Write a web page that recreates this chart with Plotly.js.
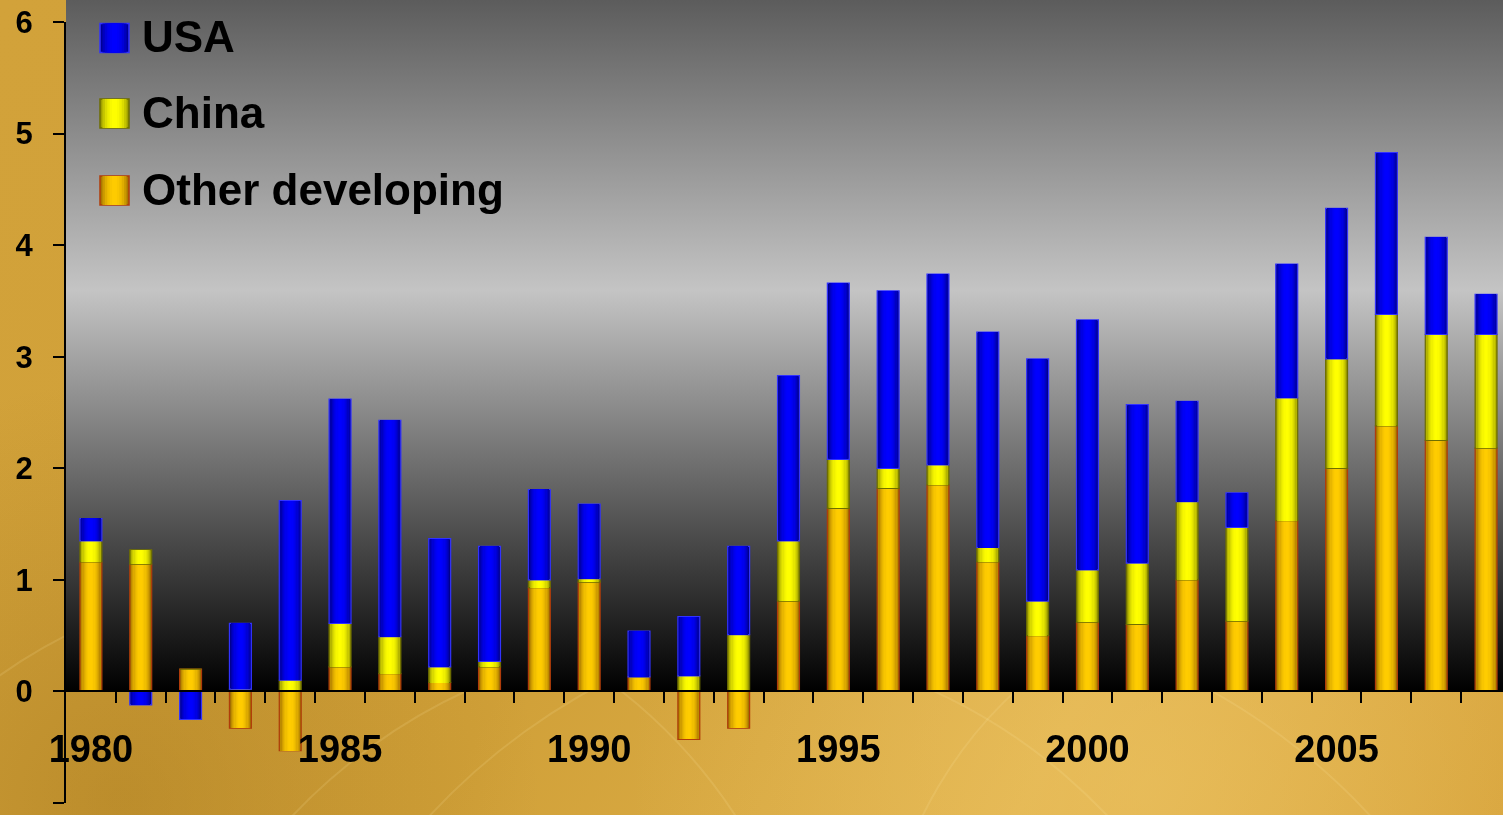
<!DOCTYPE html>
<html>
<head>
<meta charset="utf-8">
<script src="https://cdn.plot.ly/plotly-3.0.1.min.js"></script>
<style>
  html, body { margin: 0; padding: 0; width: 1503px; height: 815px; overflow: hidden; }
  #bg { position: absolute; left: 0; top: 0; }
  #chart { position: absolute; left: 0; top: 0; width: 1503px; height: 815px; }
</style>
</head>
<body>
<canvas id="bg" width="1503" height="815"></canvas>
<div id="chart"></div>
<script>
// ---------------- data ----------------
const years = [1980,1981,1982,1983,1984,1985,1986,1987,1988,1989,1990,1991,1992,1993,1994,
               1995,1996,1997,1998,1999,2000,2001,2002,2003,2004,2005,2006,2007,2008];
const usa   = [0.20,-0.12,-0.25,0.59,1.61,2.01,1.94,1.15,1.03,0.81,0.67,0.41,0.53,0.79,1.48,
               1.58,1.59,1.71,1.93,2.17,2.24,1.42,0.90,0.31,1.20,1.35,1.45,0.87,0.36];
const china = [0.19,0.13,0.00,0.02,0.10,0.39,0.33,0.14,0.05,0.07,0.03,0.00,0.14,0.51,0.54,
               0.44,0.18,0.18,0.13,0.31,0.47,0.55,0.70,0.84,1.10,0.98,1.00,0.95,1.02];
const other = [1.16,1.14,0.20,-0.33,-0.53,0.22,0.16,0.08,0.22,0.93,0.98,0.13,-0.43,-0.33,0.81,
               1.64,1.82,1.85,1.16,0.50,0.62,0.60,1.00,0.63,1.53,2.00,2.38,2.25,2.18];
const seriesNames = ['USA', 'China', 'Other developing'];
const yTicks = [-1,0,1,2,3,4,5,6];
const yearLabels = [1980,1985,1990,1995,2000,2005];

// ---------------- style ----------------
const W = 1503, H = 815;
const M = {l: 66, r: 0, t: 22, b: 12};
const plotW = W - M.l - M.r, plotH = H - M.t - M.b;
const yMin = -1, yMax = 6;
const xMin = 1979.5, xMax = 2008.34;   // chart is cropped at the right edge
const zeroFrac = (0 - yMin) / (yMax - yMin);
const zeroPx = M.t + plotH * (yMax - 0) / (yMax - yMin);
const FONT = 'Liberation Sans, Arial, Helvetica, sans-serif';

const styles = {
  'Other developing': {edge: [135, 85, 0], center: [255, 204, 0], line: 'rgb(176,60,10)'},
  'China':            {edge: [120, 120, 0], center: [255, 255, 0], line: 'rgb(110,110,0)'},
  'USA':              {edge: [0, 0, 105], center: [0, 0, 255], line: 'rgb(50,50,255)'}
};

// ---------------- background canvas ----------------
(function drawBg() {
  const c = document.getElementById('bg').getContext('2d');
  const g0 = c.createLinearGradient(0, 0, W, H);
  g0.addColorStop(0, '#d2a23a');
  g0.addColorStop(0.45, '#d0a038');
  g0.addColorStop(0.75, '#e0b24c');
  g0.addColorStop(1, '#d6a23a');
  c.fillStyle = g0; c.fillRect(0, 0, W, H);
  let rg = c.createRadialGradient(1150, 790, 10, 1150, 790, 520);
  rg.addColorStop(0, 'rgba(240,200,105,0.5)');
  rg.addColorStop(1, 'rgba(240,200,105,0)');
  c.fillStyle = rg; c.fillRect(0, 0, W, H);
  rg = c.createRadialGradient(120, 800, 10, 120, 800, 420);
  rg.addColorStop(0, 'rgba(150,105,20,0.35)');
  rg.addColorStop(1, 'rgba(150,105,20,0)');
  c.fillStyle = rg; c.fillRect(0, 0, W, H);
  c.strokeStyle = 'rgba(255,235,170,0.15)';
  c.lineWidth = 2;
  [[700, 1200, 560], [900, 1250, 640], [300, 1100, 520], [1300, 1000, 420]].forEach(a => {
    c.beginPath(); c.arc(a[0], a[1], a[2], Math.PI * 1.05, Math.PI * 1.9); c.stroke();
  });
  const gg = c.createLinearGradient(0, 0, 0, zeroPx);
  gg.addColorStop(0, '#5c5c5c');
  gg.addColorStop(0.42, '#c4c4c4');
  gg.addColorStop(1, '#000000');
  c.fillStyle = gg;
  c.fillRect(M.l, 0, W - M.l, zeroPx);
})();

// ---------------- stacking (relative) ----------------
const order = [['Other developing', other], ['China', china], ['USA', usa]];
const posBase = years.map(() => 0), negBase = years.map(() => 0);
const stacked = order.map(([name, vals]) => {
  const base = vals.map((v, i) => {
    let b;
    if (v >= 0) { b = posBase[i]; posBase[i] += v; }
    else { b = negBase[i]; negBase[i] += v; }
    return b;
  });
  return {name, vals, base};
});

function shade(st, t) {
  const g = Math.pow(Math.sin(t * Math.PI / 2), 0.6);
  const c = st.edge.map((e, j) => Math.round(e + (st.center[j] - e) * g));
  return 'rgb(' + c.join(',') + ')';
}

const BAR_W = 0.44, NL = 9;
const traces = [];
stacked.forEach(s => {
  const st = styles[s.name];
  for (let k = 0; k < NL; k++) {
    const w = BAR_W * (1 - k / NL);
    const t = (k + 0.5) / NL;
    traces.push({
      type: 'bar', x: years, y: s.vals, base: s.base, width: w,
      name: s.name, showlegend: false, hoverinfo: k === 0 ? 'x+y+name' : 'skip',
      marker: {color: shade(st, t), line: {width: k === 0 ? 1.2 : 0, color: st.line}}
    });
  }
});

// ---------------- legend (manual, larger symbols) ----------------
const px2x = p => (p - M.l) / plotW;
const px2y = p => (H - M.b - p) / plotH;
const legendRows = [{name: 'USA', cy: 38}, {name: 'China', cy: 113.5}, {name: 'Other developing', cy: 190.5}];
const shapes = [], annotations = [];
legendRows.forEach(r => {
  const st = styles[r.name];
  const x0 = 100, x1 = 129, y0 = r.cy - 14.5, y1 = r.cy + 14.5;
  const n = 6;
  for (let k = 0; k < n; k++) {
    const half = (x1 - x0) / 2 * (1 - k / n), mid = (x0 + x1) / 2;
    shapes.push({type: 'rect', xref: 'paper', yref: 'paper',
      x0: px2x(mid - half), x1: px2x(mid + half), y0: px2y(y1), y1: px2y(y0),
      fillcolor: shade(st, (k + 0.5) / n),
      line: {width: k === 0 ? 1.5 : 0, color: st.line}});
  }
  annotations.push({xref: 'paper', yref: 'paper', x: px2x(140), y: px2y(r.cy - 1),
    xanchor: 'left', yanchor: 'middle', showarrow: false, text: r.name,
    font: {family: FONT, size: 44, color: '#000', weight: 'bold'}});
});

const boundaries = years.map(y => y + 0.5);

const layout = {
  width: W, height: H,
  margin: M,
  paper_bgcolor: 'rgba(0,0,0,0)', plot_bgcolor: 'rgba(0,0,0,0)',
  barmode: 'overlay', bargap: 0,
  showlegend: false,
  font: {family: FONT, color: '#000'},
  xaxis: {
    type: 'linear', range: [xMin, xMax],
    anchor: 'free', position: zeroFrac,
    showline: true, linecolor: '#000', linewidth: 2,
    showgrid: false, zeroline: false,
    tickmode: 'array', tickvals: yearLabels, ticktext: yearLabels.map(String),
    ticks: '', ticklabelstandoff: 24,
    tickfont: {family: FONT, size: 38, color: '#000', weight: 'bold'},
    minor: {tickmode: 'array', tickvals: boundaries, ticks: 'outside', ticklen: 11,
            tickwidth: 2, tickcolor: '#000', showgrid: false}
  },
  yaxis: {
    range: [yMin, yMax], tickmode: 'array', tickvals: yTicks, ticktext: yTicks.map(String),
    showline: true, linecolor: '#000', linewidth: 2,
    showgrid: false, zeroline: false,
    ticks: 'outside', ticklen: 11, tickwidth: 2, tickcolor: '#000',
    ticklabelstandoff: 14,
    tickfont: {family: FONT, size: 31, color: '#000', weight: 'bold'}
  },
  shapes: shapes,
  annotations: annotations
};

Plotly.newPlot('chart', traces, layout, {displayModeBar: false, staticPlot: true});
</script>
</body>
</html>
